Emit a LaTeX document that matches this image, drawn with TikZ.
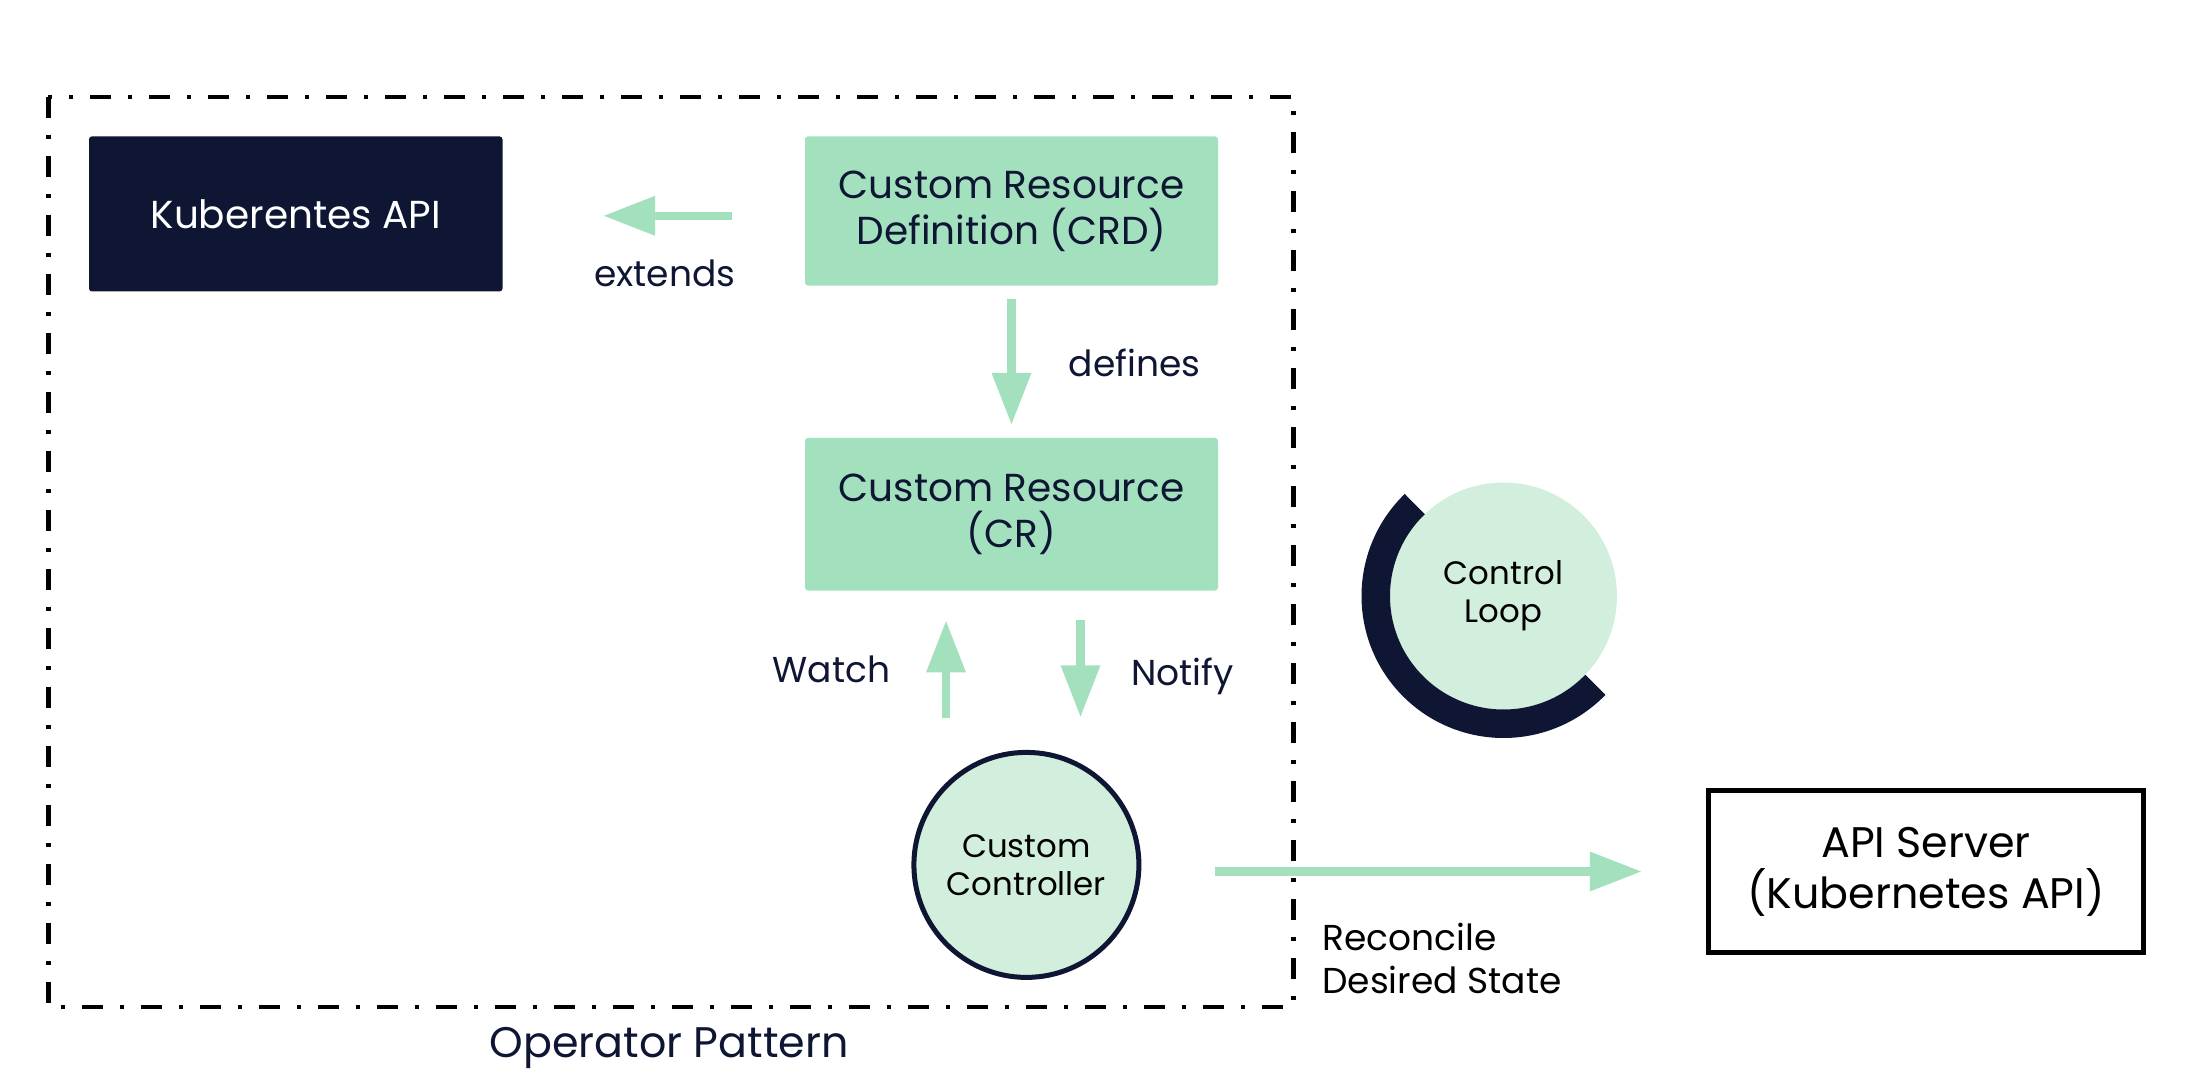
\documentclass[tikz,border=0pt]{standalone}
\usepackage{fontspec}
\setmainfont{Poppins}
\usepackage{xcolor}
\usetikzlibrary{arrows.meta,calc,positioning}
\definecolor{navy}{HTML}{0E1633}
\definecolor{mint}{HTML}{A3E0BE}
\definecolor{palemint}{HTML}{D2EFDE}

\begin{document}
\begin{tikzpicture}[x=0.5pt,y=-0.5pt,
		box/.style={rectangle, rounded corners=1.5pt, minimum width=206.5pt, align=center, text=navy, font=\fontsize{19.5}{23}\selectfont},
		circ/.style={circle, fill=palemint, align=center, inner sep=0pt, font=\fontsize{16.2}{19}\selectfont},
		lbl/.style={anchor=base, text=navy, inner sep=0pt, font=\fontsize{18}{21.5}\selectfont},
		flow/.style={draw=mint, line width=4.15pt, -{Triangle[length=26pt,width=18.75pt]}},
		frame/.style={draw=black, line width=2.25pt, dash pattern=on 10.5pt off 8.5pt on 2pt off 8.5pt}]
		\useasboundingbox (0,0) rectangle (2191,1080);
		% operator pattern frame
		\draw[frame] (48.3,96.9) rectangle (1293.7,1006.8);
		\node[lbl, font=\fontsize{21.4}{25}\selectfont] (oplbl) at (669,1057.5) {Operator Pattern};
		
		\node[box, fill=navy, text=white, minimum width=206.75pt, minimum height=77.55pt] (kapi) at (295.75,213.95) {Kuberentes API};
		\node[box, fill=mint, minimum height=74.65pt] (crd) at (1011.5,211) {Custom Resource\\Definition (CRD)};
		\node[box, fill=mint, minimum height=76.3pt] (cr) at (1011.5,514.2) {Custom Resource\\(CR)};
		\node[circ, draw=navy, line width=2.5pt, minimum size=112.5pt] (ctrl) at (1026.4,864.9) {Custom\\Controller};
		\node[box, draw=black, line width=2.5pt, text=black, minimum width=217.3pt, minimum height=81pt, rounded corners=0pt, font=\fontsize{21.4}{25.5}\selectfont] (api) at (1926,871.5) {API Server\\(Kubernetes API)};
		
		% control loop
		\node[circ, minimum size=113.5pt] (loop) at (1503.5,596) {Control\\Loop};
		\draw[navy, line width=14.25pt] ([shift={(-134:127.75)}]loop.center) arc[start angle=-134, end angle=-316, radius=127.75];
		
		\draw[flow, shorten <=36.15pt, shorten >=50.1pt] ([yshift=-2.4pt]crd.west) -- ([yshift=-2.4pt]crd.west -| kapi.east);
		\node[lbl] (extlbl) at (664.7,286.7) {extends};
		\draw[flow, shorten <=6.45pt, shorten >=6.3pt] (crd.south) -- (cr.north);
		\node[lbl] (deflbl) at (1134.6,376.9) {defines};
		\draw[flow, shorten <=16pt, shorten >=14.75pt] ([xshift=-32.75pt]cr.south |- ctrl.north) -- ([xshift=-32.75pt]cr.south);
		\node[lbl] (watchlbl) at (831.3,682.7) {Watch};
		\draw[flow, shorten <=14.75pt, shorten >=16.3pt] ([xshift=34.5pt]cr.south) -- ([xshift=34.5pt]cr.south |- ctrl.north);
		\node[lbl] (notifylbl) at (1182.2,685) {Notify};
		\draw[flow, shorten <=36.8pt, shorten >=32.2pt] (ctrl.east |- api.west) -- (api.west);
		\node[lbl, anchor=west, align=left, text=black] (reclbl) at (1322,958.6) {Reconcile\\Desired State};
	\end{tikzpicture}
\end{document}
